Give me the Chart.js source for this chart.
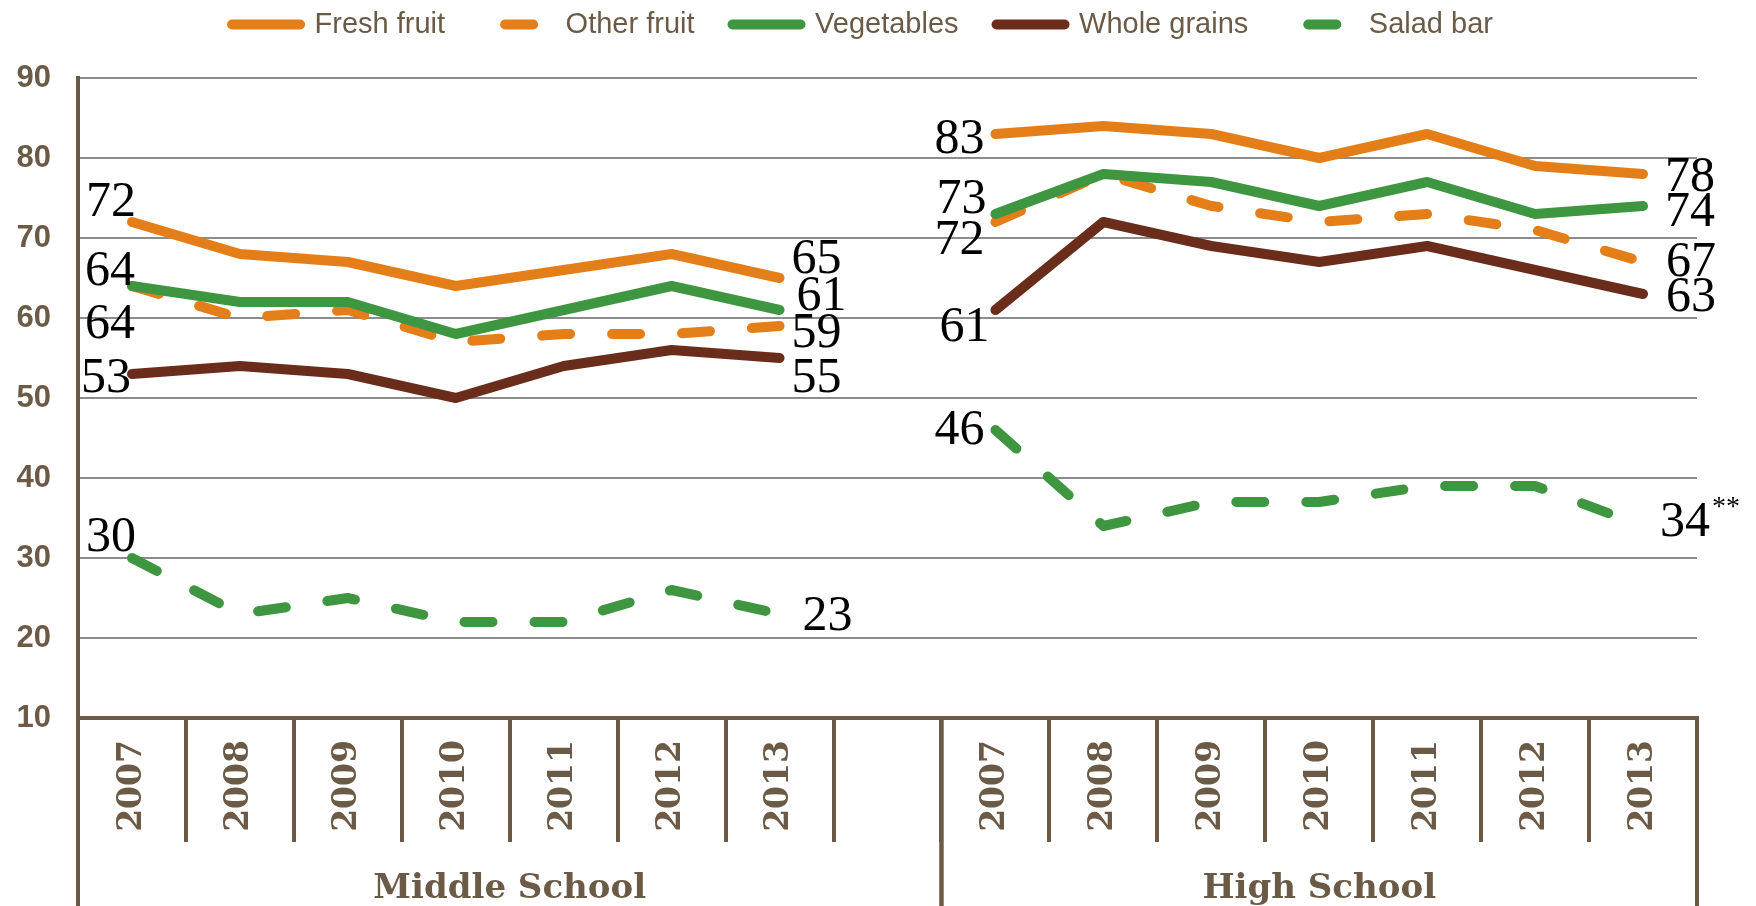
<!DOCTYPE html>
<html>
<head>
<meta charset="utf-8">
<script src="https://cdn.jsdelivr.net/npm/chart.js@4"></script>
<style>
  html, body { margin: 0; padding: 0; background: #fff; }
  canvas { display: block; }
</style>
</head>
<body>
<canvas id="chart" width="1756" height="906"></canvas>
<script>
const years = ["2007", "2008", "2009", "2010", "2011", "2012", "2013"];
const categories = [...years, "", ...years];
const groupNames = ["Middle School", "High School"];
const groupRanges = [[0, 7], [8, 14]];

const freshFruit = [72, 68, 67, 64, 66, 68, 65, null, 83, 84, 83, 80, 83, 79, 78];
const otherFruit = [64, 60, 61, 57, 58, 58, 59, null, 72, 78, 74, 72, 73, 71, 67];
const vegetables = [64, 62, 62, 58, 61, 64, 61, null, 73, 78, 77, 74, 77, 73, 74];
const wholeGrains = [53, 54, 53, 50, 54, 56, 55, null, 61, 72, 69, 67, 69, 66, 63];
const saladBar = [30, 23, 25, 22, 22, 26, 23, null, 46, 34, 37, 37, 39, 39, 34];

const ORANGE = "#e47e18";
const GREEN = "#3e9640";
const BROWN = "#6b2d1b";
const AXIS = "#6b5a46";
const DASH = [28, 42];

// points that get a value label, and where the label sits relative to the point
const labelIndexes = [0, 6, 8, 14];
const labelOffsets = [
  [[-21, -19], [37, -18], [-36, 6], [47, 4]],   // fresh fruit
  [[-22, 39], [37, 8], [-36, 19], [48, 1]],     // other fruit
  [[-22, -14], [42, -13], [-34, -14], [47, 7]], // vegetables
  [[-26, 5], [37, 21], [-31, 18], [48, 4]],     // whole grains
  [[-21, -20], [48, 3], [-36, 1], [42, -3]],    // salad bar
];

const line = (label, data, color, dashed, order) => ({
  label,
  data,
  borderColor: color,
  backgroundColor: color,
  borderWidth: 10,
  borderCapStyle: "round",
  borderJoinStyle: "round",
  borderDash: dashed ? DASH : [],
  pointRadius: 0,
  pointHoverRadius: 0,
  tension: 0,
  fill: false,
  spanGaps: false,
  order,
});

const valueLabels = {
  id: "valueLabels",
  afterDatasetsDraw(chart) {
    const ctx = chart.ctx;
    ctx.save();
    ctx.fillStyle = "#000";
    ctx.textAlign = "center";
    ctx.textBaseline = "middle";
    chart.data.datasets.forEach((ds, i) => {
      const meta = chart.getDatasetMeta(i);
      labelIndexes.forEach((idx, k) => {
        const pt = meta.data[idx];
        if (!pt || ds.data[idx] == null) return;
        const [dx, dy] = labelOffsets[i][k];
        const text = String(ds.data[idx]);
        ctx.font = "50px 'Liberation Serif', 'Times New Roman', serif";
        ctx.fillText(text, pt.x + dx, pt.y + dy);
        if (i === 4 && idx === 14) {
          const w = ctx.measureText(text).width;
          ctx.font = "28px 'Liberation Serif', serif";
          ctx.textAlign = "left";
          ctx.fillText("**", pt.x + dx + w / 2 + 2, pt.y + dy - 15);
          ctx.textAlign = "center";
        }
      });
    });
    ctx.restore();
  },
};

const groupAxis = {
  id: "groupAxis",
  afterDraw(chart) {
    const x = chart.scales.x;
    const ctx = chart.ctx;
    const slot = x.getPixelForValue(1) - x.getPixelForValue(0);
    const edge = (i) => x.getPixelForValue(i) - slot / 2;
    const top = chart.chartArea.bottom;
    const bottom = chart.height;
    ctx.save();
    ctx.strokeStyle = AXIS;
    ctx.lineWidth = 4;
    ctx.fillStyle = AXIS;
    ctx.font = "bold 34px 'DejaVu Serif', Georgia, serif";
    ctx.textAlign = "center";
    ctx.textBaseline = "alphabetic";
    groupRanges.forEach(([a, b], g) => {
      const x0 = edge(a);
      const x1 = edge(b + 1);
      [x0, x1].forEach((px) => {
        ctx.beginPath();
        ctx.moveTo(px, top);
        ctx.lineTo(px, bottom);
        ctx.stroke();
      });
      ctx.fillText(groupNames[g], (x0 + x1) / 2, bottom - 8);
    });
    ctx.restore();
  },
};

// fixed legend band height, legend nudged a little to the right like the original
const legendBox = {
  id: "legendBox",
  beforeLayout(chart) {
    const legend = chart.legend;
    if (legend && !legend._patched) {
      const fit = legend.fit;
      legend.fit = function () {
        fit.call(this);
        this.height = 106;
      };
      legend._patched = true;
    }
  },
  afterLayout(chart) {
    if (chart.legend) {
      chart.legend.left += 14;
      chart.legend.right += 14;
    }
  },
};

new Chart(document.getElementById("chart"), {
  type: "line",
  data: {
    labels: categories,
    datasets: [
      line("Fresh fruit", freshFruit, ORANGE, false, 0),
      line("Other fruit", otherFruit, ORANGE, true, 2),
      line("Vegetables", vegetables, GREEN, false, 1),
      line("Whole grains", wholeGrains, BROWN, false, 0),
      line("Salad bar", saladBar, GREEN, true, 0),
    ],
  },
  options: {
    responsive: false,
    animation: false,
    layout: { padding: { top: -28, left: 0, right: 59, bottom: 0 } },
    plugins: {
      tooltip: { enabled: false },
      legend: {
        position: "top",
        labels: {
          usePointStyle: true,
          pointStyle: "line",
          pointStyleWidth: 68,
          padding: 38,
          color: AXIS,
          font: { family: "'Liberation Sans', Arial, sans-serif", size: 29 },
          sort: (a, b) => a.datasetIndex - b.datasetIndex,
          generateLabels(chart) {
            const items = Chart.defaults.plugins.legend.labels.generateLabels(chart);
            items.forEach((it) => {
              const ds = chart.data.datasets[it.datasetIndex];
              it.lineWidth = ds.borderWidth;
              it.lineCap = "round";
              it.lineDash = ds.borderDash;
              it.lineDashOffset = ds.borderDash.length ? 48 : 0;
            });
            return items;
          },
        },
      },
    },
    scales: {
      x: {
        offset: true,
        afterFit: (s) => { s.height = 188; },
        grid: {
          offset: true,
          drawOnChartArea: false,
          drawTicks: true,
          tickLength: 124,
          color: AXIS,
          lineWidth: 4,
        },
        border: { display: true, color: AXIS, width: 4 },
        ticks: {
          autoSkip: false,
          minRotation: 90,
          maxRotation: 90,
          padding: -102,
          color: AXIS,
          font: { family: "'DejaVu Serif', Georgia, serif", size: 33, weight: "bold" },
        },
      },
      y: {
        min: 10,
        max: 90,
        afterFit: (s) => { s.width = 78; },
        grid: { color: "#8c8c8c", lineWidth: 2, drawTicks: false },
        border: { display: true, color: AXIS, width: 4 },
        ticks: {
          stepSize: 10,
          padding: 27,
          color: AXIS,
          font: { family: "'Liberation Sans', Arial, sans-serif", size: 31, weight: "bold" },
        },
      },
    },
  },
  plugins: [legendBox, valueLabels, groupAxis],
});
</script>
</body>
</html>
